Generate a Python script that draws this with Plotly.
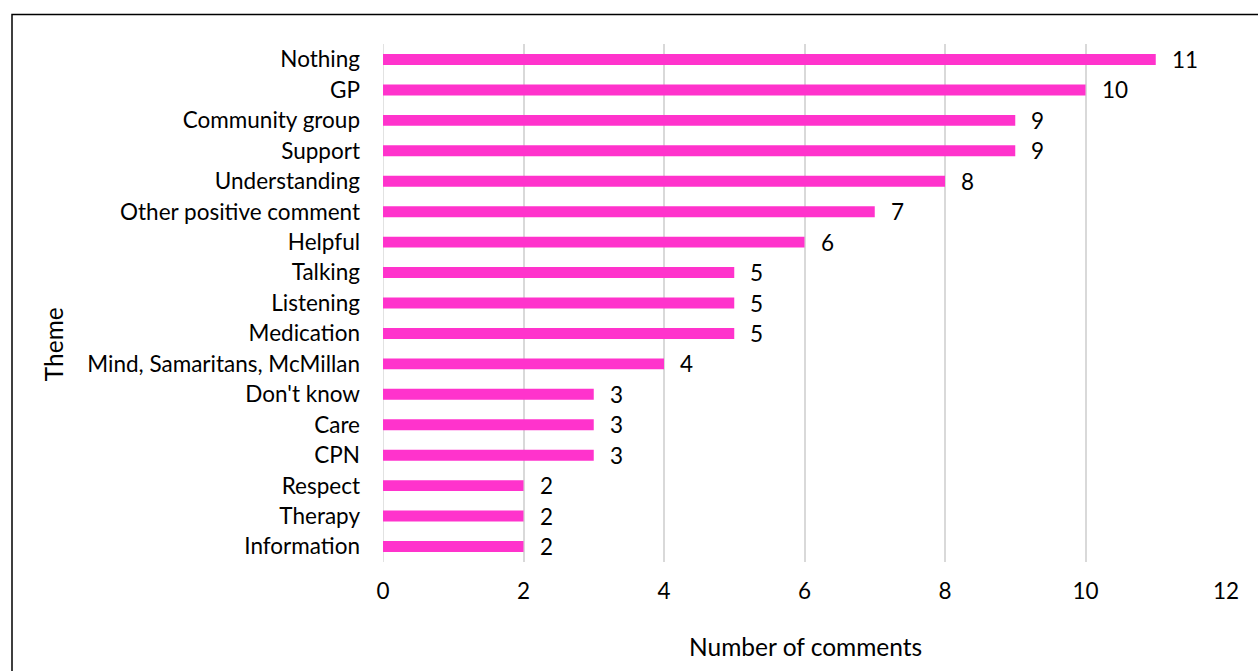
import plotly.graph_objects as go

categories = ["Nothing", "GP", "Community group", "Support", "Understanding",
              "Other positive comment", "Helpful", "Talking", "Listening", "Medication",
              "Mind, Samaritans, McMillan", "Don't know", "Care", "CPN", "Respect",
              "Therapy", "Information"]
values = [11, 10, 9, 9, 8, 7, 6, 5, 5, 5, 4, 3, 3, 3, 2, 2, 2]
x_ticks = [0, 2, 4, 6, 8, 10, 12]

FONT = "Lato"
LBL = 22.5
TTL = 24.5
W, H = 1258, 671
L, R, T, B = 383, 32, 43.5, 109
pw, ph = W - L - R, H - T - B

fig = go.Figure(go.Bar(
    x=values, y=categories, orientation="h",
    marker=dict(color="#FF33CC", line=dict(width=0)),
    width=0.36,
))

annotations = [
    dict(x=v, y=c, xref="x", yref="y", text=str(v), showarrow=False,
         xanchor="left", yanchor="middle", xshift=14,
         font=dict(family=FONT, size=LBL, color="black"))
    for c, v in zip(categories, values)
]
annotations.append(dict(x=(805 - L) / pw, y=(H - 647 - B) / ph, xref="paper", yref="paper",
                        text="Number of comments", showarrow=False,
                        xanchor="center", yanchor="middle",
                        font=dict(family=FONT, size=TTL, color="black")))
annotations.append(dict(x=(53 - L) / pw, y=(H - 344 - B) / ph, xref="paper", yref="paper",
                        text="Theme", showarrow=False, textangle=-90,
                        xanchor="center", yanchor="middle",
                        font=dict(family=FONT, size=TTL, color="black")))

fig.update_layout(
    width=W, height=H,
    margin=dict(l=L, r=R, t=T, b=B, autoexpand=False),
    paper_bgcolor="white", plot_bgcolor="white",
    showlegend=False,
    font=dict(family=FONT, size=LBL, color="black"),
    xaxis=dict(range=[0, 12], tickvals=x_ticks, showgrid=True,
               gridcolor="#D9D9D9", gridwidth=1.5, zeroline=False,
               showline=False, ticks="", ticklabelstandoff=13,
               tickfont=dict(family=FONT, size=LBL, color="black"), automargin=False),
    yaxis=dict(autorange="reversed", showgrid=False, zeroline=False,
               showline=False, ticks="", ticklabelstandoff=22,
               tickfont=dict(family=FONT, size=LBL, color="black"), automargin=False),
    annotations=annotations,
    shapes=[dict(type="rect", xref="paper", yref="paper",
                 x0=(12 - L) / pw, x1=1.5, y0=-1, y1=(H - B - 14) / ph,
                 line=dict(color="black", width=1.5), fillcolor="rgba(0,0,0,0)",
                 layer="above")],
)
fig.add_shape(type="line", xref="x", yref="paper", x0=0, x1=0, y0=0, y1=1,
              line=dict(color="#D9D9D9", width=1.5), layer="below")

fig.write_html("out.html")
